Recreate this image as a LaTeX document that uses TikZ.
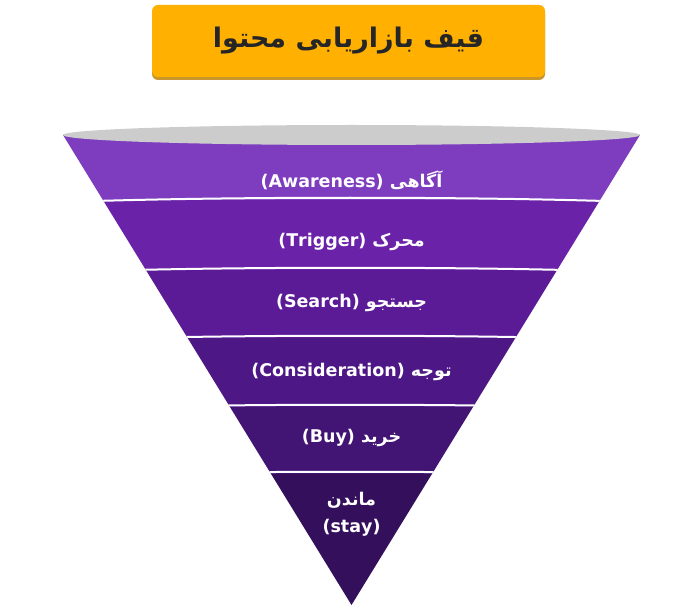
\documentclass[tikz,border=0pt]{standalone}
\usepackage{fontspec}
\setmainfont{DejaVu Sans}
\newfontfamily\arabicfont[Script=Arabic]{DejaVu Sans}
\TeXXeTstate=1
\usetikzlibrary{shadows}
\definecolor{titleorange}{HTML}{FFB000}
\definecolor{titleshade}{HTML}{C8962A}
\definecolor{bandA}{HTML}{7E3DBF}
\definecolor{bandB}{HTML}{6A22A8}
\definecolor{bandC}{HTML}{5B1A96}
\definecolor{bandD}{HTML}{4E1786}
\definecolor{bandE}{HTML}{421474}
\definecolor{bandF}{HTML}{34105C}
\tikzset{
  titlebox/.style={rounded corners=6pt, fill=titleorange, minimum width=393pt, minimum height=72pt,
    drop shadow={shadow xshift=0pt, shadow yshift=-3pt, fill=titleshade, opacity=1},
    font=\arabicfont\bfseries\fontsize{27}{32}\selectfont, text=black!85},
  stagelabel/.style={text=white, align=center, font=\arabicfont\bfseries\fontsize{17.5}{27}\selectfont},
  divider/.style={draw=white, line width=2pt}
}
\begin{document}
\begin{tikzpicture}[x=1pt, y=-1pt]
  \useasboundingbox (0,0) rectangle (700,612);
  % title
  \node[titlebox] (title) at (348.5,41) {\beginR قیف بازاریابی محتوا\endR};
  % funnel body
  \begin{scope}
    \clip (63,135) -- (640,135) -- (351.5,605) -- cycle;
    \foreach \ya/\yb/\col in {120/200/bandA, 200/270/bandB, 270/338/bandC, 338/407/bandD, 407/474/bandE, 474/610/bandF}
      \fill[\col] (0,\ya) rectangle (700,\yb);
    \foreach \yy in {198,268,336,405,472}
      \draw[divider] (40,\yy+5) .. controls (200,\yy-2) and (500,\yy-2) .. (660,\yy+5);
  \end{scope}
  \fill[gray!40] (351.5,135) ellipse [x radius=288.5, y radius=10];
  % stage labels
  \node[stagelabel] (aware)   at (351.5,180) {\beginR آگاهی \beginL(Awareness)\endL\endR};
  \node[stagelabel] (trigger) at (351.5,242) {\beginR محرک \beginL(Trigger)\endL\endR};
  \node[stagelabel] (search)  at (351.5,303) {\beginR جستجو \beginL(Search)\endL\endR};
  \node[stagelabel] (consid)  at (351.5,372) {\beginR توجه \beginL(Consideration)\endL\endR};
  \node[stagelabel] (buy)     at (351.5,438) {\beginR خرید \beginL(Buy)\endL\endR};
  \node[stagelabel] (stay)    at (351.5,514) {\beginR ماندن\endR\\(stay)};
\end{tikzpicture}
\end{document}
